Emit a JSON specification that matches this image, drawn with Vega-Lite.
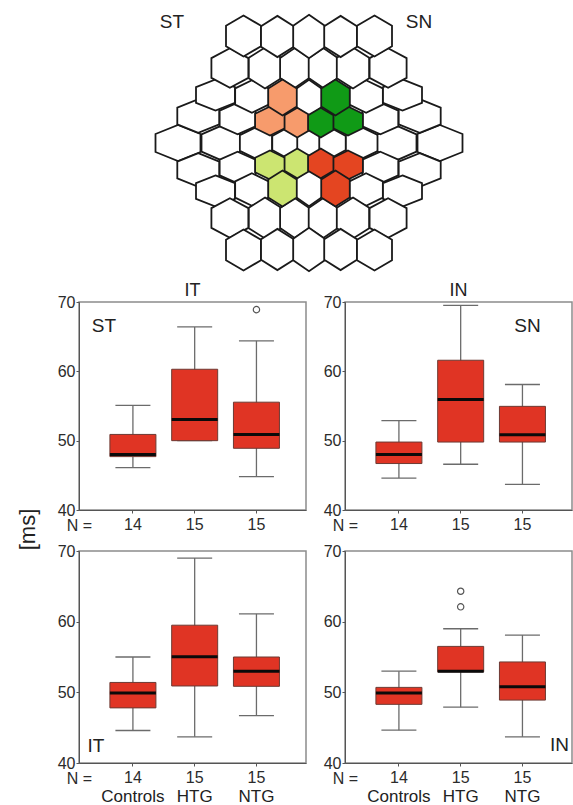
{
  "$schema": "https://vega.github.io/schema/vega-lite/v6.json",
  "padding": {"left": 15, "top": 0, "right": 0, "bottom": 0},
  "background": "white",
  "spacing": -10,
  "config": {
    "font": "Liberation Sans",
    "view": {"stroke": "#8c8c8c", "strokeWidth": 1.5},
    "axis": {"grid": false, "labelFont": "Liberation Sans", "labelFontSize": 16, "labelColor": "#2b2b2b", "domainColor": "#555555", "tickColor": "#555555", "titleFont": "Liberation Sans", "titleFontWeight": "normal", "titleColor": "#222222"},
    "title": {"font": "Liberation Sans", "fontSize": 18, "fontWeight": "normal", "color": "#222222"},
    "text": {"font": "Liberation Sans"}
  },
  "datasets": {
    "hex": [
      {"x": -131, "y": 0, "w": 45, "a": 0.8, "r": "none"},
      {"x": -88, "y": 0, "w": 39, "a": 0.88, "r": "none"},
      {"x": -53, "y": 0, "w": 32.25, "a": 0.97, "r": "none"},
      {"x": -23.5, "y": 0, "w": 26.5, "a": 1.07, "r": "none"},
      {"x": 0, "y": 0, "w": 23.5, "a": 1.17, "r": "none"},
      {"x": 23.5, "y": 0, "w": 26.5, "a": 1.07, "r": "none"},
      {"x": 53, "y": 0, "w": 32.25, "a": 0.97, "r": "none"},
      {"x": 88, "y": 0, "w": 39, "a": 0.88, "r": "none"},
      {"x": 131, "y": 0, "w": 45, "a": 0.8, "r": "none"},
      {"x": -110.7, "y": 27, "w": 42, "a": 0.8, "r": "none"},
      {"x": -71.4, "y": 24.5, "w": 35.9, "a": 0.88, "r": "none"},
      {"x": 71.4, "y": 24.5, "w": 35.9, "a": 0.88, "r": "none"},
      {"x": 110.7, "y": 27, "w": 42, "a": 0.8, "r": "none"},
      {"x": -110.7, "y": -27, "w": 42, "a": 0.8, "r": "none"},
      {"x": -71.4, "y": -24.5, "w": 35.9, "a": 0.88, "r": "none"},
      {"x": 71.4, "y": -24.5, "w": 35.9, "a": 0.88, "r": "none"},
      {"x": 110.7, "y": -27, "w": 42, "a": 0.8, "r": "none"},
      {"x": -93.5, "y": 48, "w": 39, "a": 0.8, "r": "none"},
      {"x": -57.1, "y": 46.5, "w": 33.5, "a": 0.97, "r": "none"},
      {"x": 0, "y": 45, "w": 26.5, "a": 1.37, "r": "none"},
      {"x": 57.1, "y": 46.5, "w": 33.5, "a": 0.97, "r": "none"},
      {"x": 93.5, "y": 48, "w": 39, "a": 0.8, "r": "none"},
      {"x": -93.5, "y": -48, "w": 39, "a": 0.8, "r": "none"},
      {"x": -57.1, "y": -46.5, "w": 33.5, "a": 0.97, "r": "none"},
      {"x": 0, "y": -45, "w": 26.5, "a": 1.37, "r": "none"},
      {"x": 57.1, "y": -46.5, "w": 33.5, "a": 0.97, "r": "none"},
      {"x": 93.5, "y": -48, "w": 39, "a": 0.8, "r": "none"},
      {"x": -79.1, "y": 75, "w": 37, "a": 1.07, "r": "none"},
      {"x": -44, "y": 75, "w": 32.4, "a": 1.26, "r": "none"},
      {"x": -14.3, "y": 75, "w": 29.2, "a": 1.37, "r": "none"},
      {"x": 14.3, "y": 75, "w": 29.2, "a": 1.37, "r": "none"},
      {"x": 44, "y": 75, "w": 32.4, "a": 1.26, "r": "none"},
      {"x": 79.1, "y": 75, "w": 37, "a": 1.07, "r": "none"},
      {"x": -79.1, "y": -75, "w": 37, "a": 1.07, "r": "none"},
      {"x": -44, "y": -75, "w": 32.4, "a": 1.26, "r": "none"},
      {"x": -14.3, "y": -75, "w": 29.2, "a": 1.37, "r": "none"},
      {"x": 14.3, "y": -75, "w": 29.2, "a": 1.37, "r": "none"},
      {"x": 44, "y": -75, "w": 32.4, "a": 1.26, "r": "none"},
      {"x": 79.1, "y": -75, "w": 37, "a": 1.07, "r": "none"},
      {"x": -65.5, "y": 107, "w": 35, "a": 1.17, "r": "none"},
      {"x": -31.6, "y": 106.5, "w": 32.75, "a": 1.26, "r": "none"},
      {"x": 0, "y": 106.5, "w": 31.6, "a": 1.37, "r": "none"},
      {"x": 31.6, "y": 106.5, "w": 32.75, "a": 1.26, "r": "none"},
      {"x": 65.5, "y": 107, "w": 35, "a": 1.17, "r": "none"},
      {"x": -65.5, "y": -107, "w": 35, "a": 1.17, "r": "none"},
      {"x": -31.6, "y": -106.5, "w": 32.75, "a": 1.26, "r": "none"},
      {"x": 0, "y": -106.5, "w": 31.6, "a": 1.37, "r": "none"},
      {"x": 31.6, "y": -106.5, "w": 32.75, "a": 1.26, "r": "none"},
      {"x": 65.5, "y": -107, "w": 35, "a": 1.17, "r": "none"},
      {"x": -39, "y": 22, "w": 29.8, "a": 0.97, "r": "ST"},
      {"x": -11.75, "y": 20.4, "w": 25.4, "a": 1.17, "r": "ST"},
      {"x": -26.5, "y": 45.5, "w": 28.55, "a": 1.26, "r": "ST"},
      {"x": 39, "y": 22, "w": 29.8, "a": 0.97, "r": "SN"},
      {"x": 11.75, "y": 20.4, "w": 25.4, "a": 1.17, "r": "SN"},
      {"x": 26.5, "y": 45.5, "w": 28.55, "a": 1.26, "r": "SN"},
      {"x": -39, "y": -22, "w": 29.8, "a": 0.97, "r": "IT"},
      {"x": -11.75, "y": -20.4, "w": 25.4, "a": 1.17, "r": "IT"},
      {"x": -26.5, "y": -45.5, "w": 28.55, "a": 1.26, "r": "IT"},
      {"x": 39, "y": -22, "w": 29.8, "a": 0.97, "r": "IN"},
      {"x": 11.75, "y": -20.4, "w": 25.4, "a": 1.17, "r": "IN"},
      {"x": 26.5, "y": -45.5, "w": 28.55, "a": 1.26, "r": "IN"}
    ],
    "hexlabels": [
      {"label": "ST", "x": -137, "y": 121},
      {"label": "SN", "x": 110, "y": 121}
    ],
    "tl": [
      {"group": "Controls", "min": 46.1, "q1": 47.7, "median": 48.0, "q3": 50.9, "max": 55.1, "n": 14, "out1": null, "out2": null},
      {"group": "HTG", "min": 50.0, "q1": 50.0, "median": 53.05, "q3": 60.3, "max": 66.4, "n": 15, "out1": null, "out2": null},
      {"group": "NTG", "min": 44.8, "q1": 48.9, "median": 50.9, "q3": 55.55, "max": 64.4, "n": 15, "out1": 68.9, "out2": null}
    ],
    "tr": [
      {"group": "Controls", "min": 44.6, "q1": 46.7, "median": 48.0, "q3": 49.8, "max": 52.9, "n": 14, "out1": null, "out2": null},
      {"group": "HTG", "min": 46.6, "q1": 49.8, "median": 55.95, "q3": 61.6, "max": 69.5, "n": 15, "out1": null, "out2": null},
      {"group": "NTG", "min": 43.7, "q1": 49.8, "median": 50.85, "q3": 54.95, "max": 58.1, "n": 15, "out1": null, "out2": null}
    ],
    "bl": [
      {"group": "Controls", "min": 44.6, "q1": 47.8, "median": 49.9, "q3": 51.4, "max": 55.0, "n": 14, "out1": null, "out2": null},
      {"group": "HTG", "min": 43.7, "q1": 50.9, "median": 55.05, "q3": 59.5, "max": 69.0, "n": 15, "out1": null, "out2": null},
      {"group": "NTG", "min": 46.7, "q1": 50.85, "median": 53.0, "q3": 55.0, "max": 61.1, "n": 15, "out1": null, "out2": null}
    ],
    "br": [
      {"group": "Controls", "min": 44.65, "q1": 48.3, "median": 49.9, "q3": 50.7, "max": 53.0, "n": 14, "out1": null, "out2": null},
      {"group": "HTG", "min": 47.9, "q1": 52.9, "median": 53.0, "q3": 56.5, "max": 59.0, "n": 15, "out1": 64.3, "out2": 62.1},
      {"group": "NTG", "min": 43.7, "q1": 48.9, "median": 50.8, "q3": 54.3, "max": 58.1, "n": 15, "out1": null, "out2": null}
    ]
  },
  "vconcat": [
    {
      "width": 493,
      "height": 291,
      "view": {"stroke": null},
      "layer": [
        {
          "data": {"name": "hex"},
          "mark": {"type": "point", "filled": true, "stroke": "#1a1a1a", "strokeWidth": 1.8, "opacity": 1, "fillOpacity": 1, "strokeOpacity": 1},
          "encoding": {
            "x": {"field": "x", "type": "quantitative", "scale": {"domain": [-230, 263], "nice": false, "zero": false}, "axis": null},
            "y": {"field": "y", "type": "quantitative", "scale": {"domain": [-148, 143], "nice": false, "zero": false}, "axis": null},
            "size": {"field": "w", "type": "quantitative", "scale": {"type": "pow", "exponent": 2, "domain": [0, 50], "range": [0, 3333]}, "legend": null},
            "shape": {"field": "a", "type": "ordinal", "scale": {"domain": [0.8, 0.88, 0.97, 1.07, 1.17, 1.26, 1.37], "range": [
              "M0,-0.693L0.866,-0.346L0.866,0.346L0,0.693L-0.866,0.346L-0.866,-0.346Z",
              "M0,-0.762L0.866,-0.381L0.866,0.381L0,0.762L-0.866,0.381L-0.866,-0.381Z",
              "M0,-0.840L0.866,-0.420L0.866,0.420L0,0.840L-0.866,0.420L-0.866,-0.420Z",
              "M0,-0.927L0.866,-0.463L0.866,0.463L0,0.927L-0.866,0.463L-0.866,-0.463Z",
              "M0,-1.013L0.866,-0.507L0.866,0.507L0,1.013L-0.866,0.507L-0.866,-0.507Z",
              "M0,-1.091L0.866,-0.546L0.866,0.546L0,1.091L-0.866,0.546L-0.866,-0.546Z",
              "M0,-1.186L0.866,-0.593L0.866,0.593L0,1.186L-0.866,0.593L-0.866,-0.593Z"
            ]}, "legend": null},
            "fill": {"field": "r", "type": "nominal", "scale": {"domain": ["none", "ST", "SN", "IT", "IN"], "range": ["#ffffff", "#F79B6C", "#109A16", "#CCE571", "#E44521"]}, "legend": null}
          }
        },
        {
          "data": {"name": "hexlabels"},
          "mark": {"type": "text", "fontSize": 19, "color": "#222222"},
          "encoding": {
            "x": {"field": "x", "type": "quantitative"},
            "y": {"field": "y", "type": "quantitative"},
            "text": {"field": "label"}
          }
        }
      ]
    },
    {
      "hconcat": [
        {
          "width": 227, "height": 208,
          "title": {"text": "IT", "offset": -20, "baseline": "alphabetic"},
          "data": {"name": "tl"},
          "encoding": {"x": {"field": "group", "type": "nominal", "scale": {"domain": ["Controls", "HTG", "NTG"], "paddingInner": 0.5, "paddingOuter": 0.5875, "align": 0.53},
            "axis": {"title": "N =", "titleX": 0, "titleY": 20, "titleAlign": "center", "titleBaseline": "alphabetic", "titleFontSize": 16, "titleColor": "#2b2b2b", "labels": false, "tickSize": 3}}},
          "layer": [
            {"mark": {"type": "rule", "color": "#6b6b6b", "strokeWidth": 1.3},
             "encoding": {"y": {"field": "min", "type": "quantitative", "scale": {"domain": [40, 70], "nice": false, "zero": false},
               "axis": {"values": [40, 50, 60, 70], "tickSize": 3, "labelPadding": 1, "title": "[ms]", "titleX": -52, "titleY": 227, "titleAngle": 270, "titleAlign": "center", "titleBaseline": "middle", "titleFontSize": 22}},
               "y2": {"field": "max"}}},
            {"mark": {"type": "tick", "color": "#6b6b6b", "size": 35, "thickness": 1.3, "opacity": 1}, "encoding": {"y": {"field": "max", "type": "quantitative"}}},
            {"mark": {"type": "tick", "color": "#6b6b6b", "size": 35, "thickness": 1.3, "opacity": 1}, "encoding": {"y": {"field": "min", "type": "quantitative"}}},
            {"mark": {"type": "bar", "size": 46, "color": "#E03424", "stroke": "#6d3a33", "strokeWidth": 1, "opacity": 1}, "encoding": {"y": {"field": "q1", "type": "quantitative"}, "y2": {"field": "q3"}}},
            {"mark": {"type": "tick", "color": "#0a0a0a", "size": 46, "thickness": 3, "opacity": 1}, "encoding": {"y": {"field": "median", "type": "quantitative"}}},
            {"mark": {"type": "point", "shape": "circle", "filled": false, "color": "#555555", "size": 40, "strokeWidth": 1.2, "opacity": 1}, "encoding": {"y": {"field": "out1", "type": "quantitative"}}},
            {"mark": {"type": "text", "baseline": "alphabetic", "dy": 20, "fontSize": 16, "color": "#2b2b2b"}, "encoding": {"text": {"field": "n", "type": "quantitative"}, "y": {"datum": 40}}},
            {"data": {"values": [{}]}, "mark": {"type": "text", "text": "ST", "fontSize": 19, "dx": -29, "color": "#222222"}, "encoding": {"x": {"datum": "Controls"}, "y": {"datum": 66.5}}}
          ]
        },
        {
          "width": 227, "height": 208,
          "title": {"text": "IN", "offset": -20, "baseline": "alphabetic"},
          "data": {"name": "tr"},
          "encoding": {"x": {"field": "group", "type": "nominal", "scale": {"domain": ["Controls", "HTG", "NTG"], "paddingInner": 0.5, "paddingOuter": 0.5875, "align": 0.53},
            "axis": {"title": "N =", "titleX": 0, "titleY": 20, "titleAlign": "center", "titleBaseline": "alphabetic", "titleFontSize": 16, "titleColor": "#2b2b2b", "labels": false, "tickSize": 3}}},
          "layer": [
            {"mark": {"type": "rule", "color": "#6b6b6b", "strokeWidth": 1.3},
             "encoding": {"y": {"field": "min", "type": "quantitative", "scale": {"domain": [40, 70], "nice": false, "zero": false},
               "axis": {"values": [40, 50, 60, 70], "tickSize": 3, "labelPadding": 1, "title": null}},
               "y2": {"field": "max"}}},
            {"mark": {"type": "tick", "color": "#6b6b6b", "size": 35, "thickness": 1.3, "opacity": 1}, "encoding": {"y": {"field": "max", "type": "quantitative"}}},
            {"mark": {"type": "tick", "color": "#6b6b6b", "size": 35, "thickness": 1.3, "opacity": 1}, "encoding": {"y": {"field": "min", "type": "quantitative"}}},
            {"mark": {"type": "bar", "size": 46, "color": "#E03424", "stroke": "#6d3a33", "strokeWidth": 1, "opacity": 1}, "encoding": {"y": {"field": "q1", "type": "quantitative"}, "y2": {"field": "q3"}}},
            {"mark": {"type": "tick", "color": "#0a0a0a", "size": 46, "thickness": 3, "opacity": 1}, "encoding": {"y": {"field": "median", "type": "quantitative"}}},
            {"mark": {"type": "text", "baseline": "alphabetic", "dy": 20, "fontSize": 16, "color": "#2b2b2b"}, "encoding": {"text": {"field": "n", "type": "quantitative"}, "y": {"datum": 40}}},
            {"data": {"values": [{}]}, "mark": {"type": "text", "text": "SN", "fontSize": 19, "dx": 5, "color": "#222222"}, "encoding": {"x": {"datum": "NTG"}, "y": {"datum": 66.5}}}
          ]
        }
      ],
      "spacing": 15
    },
    {
      "hconcat": [
        {
          "width": 227, "height": 212,
          "data": {"name": "bl"},
          "encoding": {"x": {"field": "group", "type": "nominal", "scale": {"domain": ["Controls", "HTG", "NTG"], "paddingInner": 0.5, "paddingOuter": 0.5875, "align": 0.53},
            "axis": {"title": "N =", "titleX": 0, "titleY": 20, "titleAlign": "center", "titleBaseline": "alphabetic", "titleFontSize": 16, "titleColor": "#2b2b2b", "labels": true, "labelAngle": 0, "labelFontSize": 17, "labelColor": "#222222", "labelPadding": 22, "tickSize": 3}}},
          "layer": [
            {"mark": {"type": "rule", "color": "#6b6b6b", "strokeWidth": 1.3},
             "encoding": {"y": {"field": "min", "type": "quantitative", "scale": {"domain": [40, 70], "nice": false, "zero": false},
               "axis": {"values": [40, 50, 60, 70], "tickSize": 3, "labelPadding": 1, "title": "[ms]", "titleX": -52, "titleY": 100, "titleAngle": 270, "titleAlign": "center", "titleBaseline": "middle", "titleFontSize": 22, "titleOpacity": 0}},
               "y2": {"field": "max"}}},
            {"mark": {"type": "tick", "color": "#6b6b6b", "size": 35, "thickness": 1.3, "opacity": 1}, "encoding": {"y": {"field": "max", "type": "quantitative"}}},
            {"mark": {"type": "tick", "color": "#6b6b6b", "size": 35, "thickness": 1.3, "opacity": 1}, "encoding": {"y": {"field": "min", "type": "quantitative"}}},
            {"mark": {"type": "bar", "size": 46, "color": "#E03424", "stroke": "#6d3a33", "strokeWidth": 1, "opacity": 1}, "encoding": {"y": {"field": "q1", "type": "quantitative"}, "y2": {"field": "q3"}}},
            {"mark": {"type": "tick", "color": "#0a0a0a", "size": 46, "thickness": 3, "opacity": 1}, "encoding": {"y": {"field": "median", "type": "quantitative"}}},
            {"mark": {"type": "text", "baseline": "alphabetic", "dy": 20, "fontSize": 16, "color": "#2b2b2b"}, "encoding": {"text": {"field": "n", "type": "quantitative"}, "y": {"datum": 40}}},
            {"data": {"values": [{}]}, "mark": {"type": "text", "text": "IT", "fontSize": 19, "dx": -37, "color": "#222222"}, "encoding": {"x": {"datum": "Controls"}, "y": {"datum": 42.4}}}
          ]
        },
        {
          "width": 227, "height": 212,
          "data": {"name": "br"},
          "encoding": {"x": {"field": "group", "type": "nominal", "scale": {"domain": ["Controls", "HTG", "NTG"], "paddingInner": 0.5, "paddingOuter": 0.5875, "align": 0.53},
            "axis": {"title": "N =", "titleX": 0, "titleY": 20, "titleAlign": "center", "titleBaseline": "alphabetic", "titleFontSize": 16, "titleColor": "#2b2b2b", "labels": true, "labelAngle": 0, "labelFontSize": 17, "labelColor": "#222222", "labelPadding": 22, "tickSize": 3}}},
          "layer": [
            {"mark": {"type": "rule", "color": "#6b6b6b", "strokeWidth": 1.3},
             "encoding": {"y": {"field": "min", "type": "quantitative", "scale": {"domain": [40, 70], "nice": false, "zero": false},
               "axis": {"values": [40, 50, 60, 70], "tickSize": 3, "labelPadding": 1, "title": null}},
               "y2": {"field": "max"}}},
            {"mark": {"type": "tick", "color": "#6b6b6b", "size": 35, "thickness": 1.3, "opacity": 1}, "encoding": {"y": {"field": "max", "type": "quantitative"}}},
            {"mark": {"type": "tick", "color": "#6b6b6b", "size": 35, "thickness": 1.3, "opacity": 1}, "encoding": {"y": {"field": "min", "type": "quantitative"}}},
            {"mark": {"type": "bar", "size": 46, "color": "#E03424", "stroke": "#6d3a33", "strokeWidth": 1, "opacity": 1}, "encoding": {"y": {"field": "q1", "type": "quantitative"}, "y2": {"field": "q3"}}},
            {"mark": {"type": "tick", "color": "#0a0a0a", "size": 46, "thickness": 3, "opacity": 1}, "encoding": {"y": {"field": "median", "type": "quantitative"}}},
            {"mark": {"type": "point", "shape": "circle", "filled": false, "color": "#555555", "size": 40, "strokeWidth": 1.2, "opacity": 1}, "encoding": {"y": {"field": "out1", "type": "quantitative"}}},
            {"mark": {"type": "point", "shape": "circle", "filled": false, "color": "#555555", "size": 40, "strokeWidth": 1.2, "opacity": 1}, "encoding": {"y": {"field": "out2", "type": "quantitative"}}},
            {"mark": {"type": "text", "baseline": "alphabetic", "dy": 20, "fontSize": 16, "color": "#2b2b2b"}, "encoding": {"text": {"field": "n", "type": "quantitative"}, "y": {"datum": 40}}},
            {"data": {"values": [{}]}, "mark": {"type": "text", "text": "IN", "fontSize": 19, "dx": 37, "color": "#222222"}, "encoding": {"x": {"datum": "NTG"}, "y": {"datum": 42.5}}}
          ]
        }
      ],
      "spacing": 15
    }
  ]
}
